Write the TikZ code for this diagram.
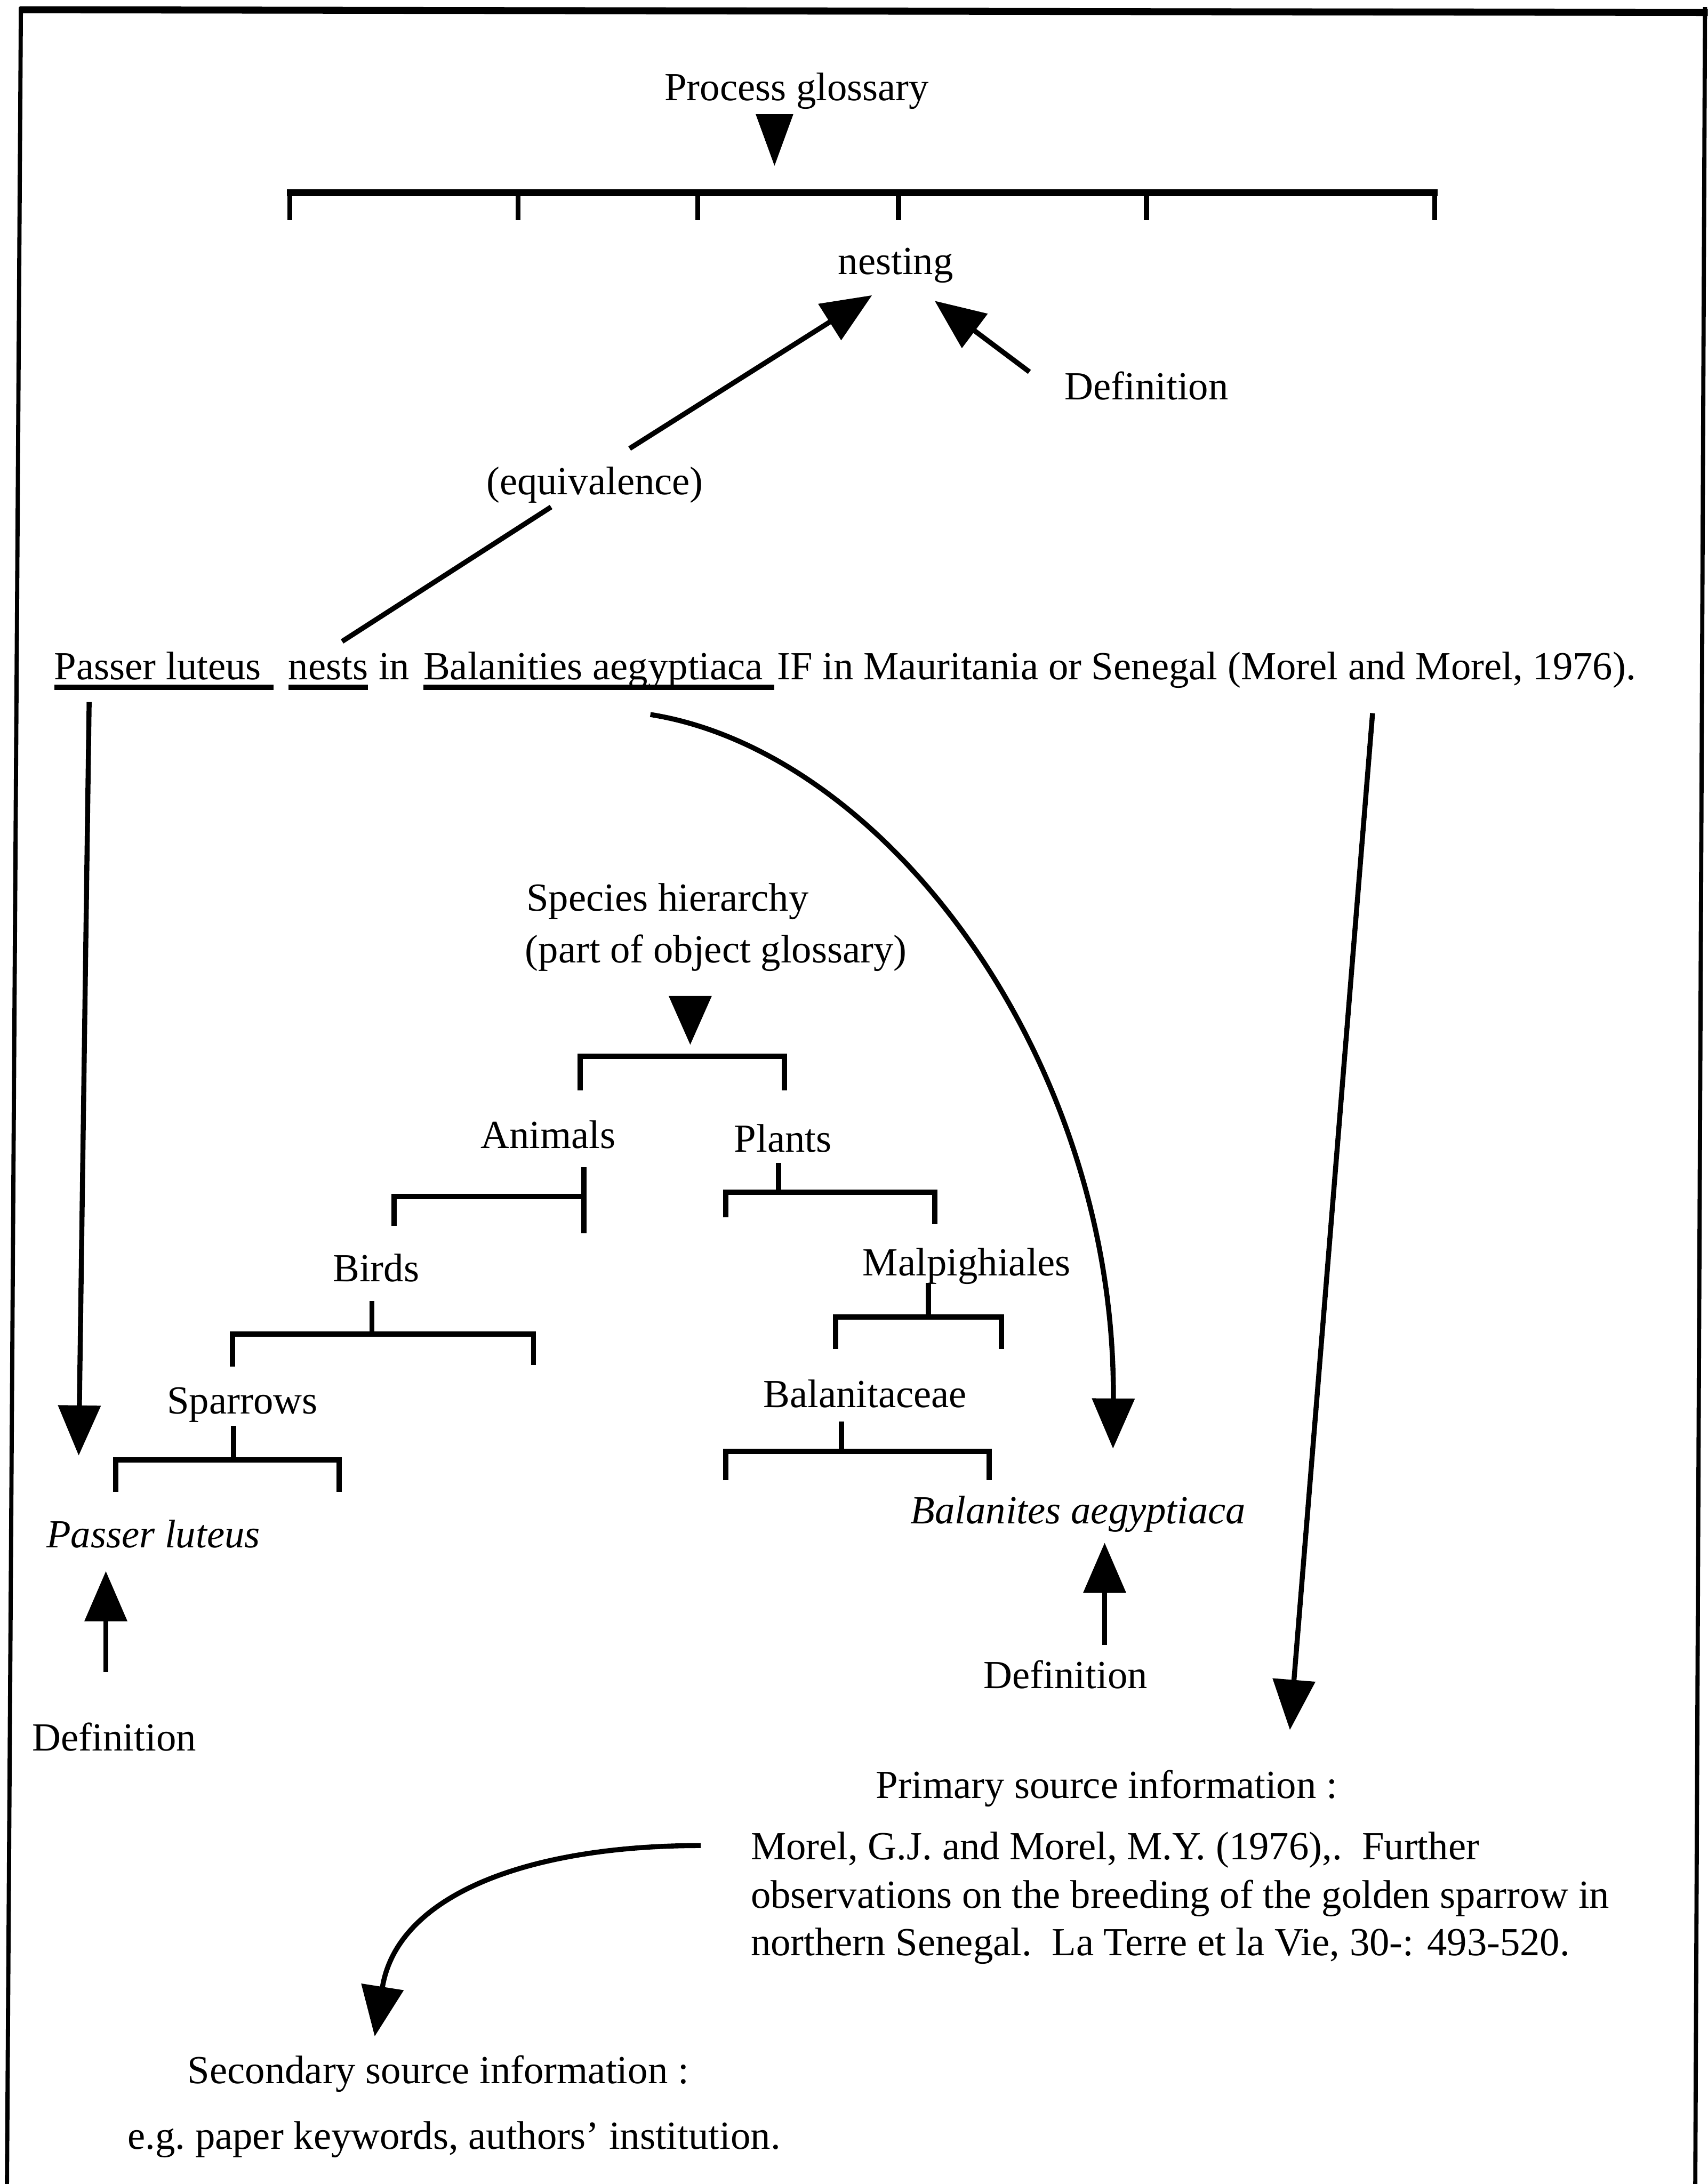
\documentclass[tikz,border=0pt]{standalone}
\usepackage{fontspec}
\setmainfont{Liberation Serif}
\usetikzlibrary{arrows.meta,calc}
\begin{document}
\begin{tikzpicture}[x=1pt,y=-1pt,
  txt/.style={inner sep=0pt, outer sep=0pt, font=\fontsize{28.6}{34}\selectfont},
  lbl/.style={txt, anchor=base},
  word/.style={txt, anchor=base west},
  ln/.style={line width=3.6pt},
  arr/.style={line width=3.6pt, -{Triangle[length=36pt,width=30pt]}},
  br/.style={line width=3.8pt},
  uline/.style={line width=4pt},
  frame/.style={line width=3pt}]
\useasboundingbox (0,0) rectangle (1226,1568);

% frame (open at the bottom)
\draw[line width=5pt] (14,7) -- (1226,9);
\draw[frame] (15,5) -- (5,1568);
\draw[frame] (1224,5) -- (1217,1568);

% ---- process glossary ----
\node[lbl] (pg) at (572,72) {Process glossary};
\fill (542.5,82) -- (569.5,82) -- (556,119) -- cycle;
\draw[line width=5pt] (206,138.5) -- (1032,138.5);
\foreach \x in {208,372,501,645,823,1030} \draw[ln] (\x,138.5) -- (\x,158);

\node[lbl] (nest) at (643,197) {nesting};
\node[lbl] (defA) at (823,287) {Definition};
\node[lbl] (eq) at (427,355) {(equivalence)};

% ---- the statement ----
\node[word] (w1) at (39,488) {Passer luteus\kern9pt};
\node[word] (w2) at (207,488) {nests};
\node[lbl]  (w2b) at (283,488) {in};
\node[word] (w3) at (304,488) {Balanities aegyptiaca\kern8pt};
\node[word] (w4) at (558,488) {IF in Mauritania or Senegal (Morel and Morel, 1976).};
\foreach \w in {w1,w2,w3}
  \draw[uline] ($(\w.base west)+(0,5.5)$) -- ($(\w.base east)+(0,5.5)$);

\draw[ln] ($(w2.base)+(10,-27.5)$) -- ($(eq.base)+(-31.4,9)$);
\draw[arr] ($(eq.base)+(25,-33)$) -- ($(nest.base)+(-17,15)$);
\draw[arr] ($(defA.base)+(-84,-20)$) -- ($(nest.base)+(28,19)$);

% ---- species hierarchy ----
\node[word] (sh1) at (378,654) {Species hierarchy};
\node[word] (sh2) at (377,691) {(part of object glossary)};
\fill (480,715) -- (511,715) -- (495.5,750) -- cycle;
\draw[br] (416.5,783) -- (416.5,758.5) -- (563,758.5) -- (563,783);

\node[lbl] (an) at (393.5,824.5) {Animals};
\node[lbl] (pl) at (562,827) {Plants};
\draw[br] (419,838) -- (419,885.5);
\draw[br] (283,880) |- (419,859);
\draw[br] (559,835) -- (559,856);
\draw[br] (521,874) |- (671,856) -- (671,879);

\node[lbl] (bi) at (270,920) {Birds};
\node[lbl] (ma) at (694,916) {Malpighiales};
\draw[br] (267,934) -- (267,957.7);
\draw[br] (167,981) |- (383,957.7) -- (383,980);
\draw[br] (666.6,921) -- (666.6,945.6);
\draw[br] (600,968.5) |- (719,945.6) -- (719,968.5);

\node[lbl] (sp) at (174,1015) {Sparrows};
\node[lbl] (ba) at (621,1010.6) {Balanitaceae};
\draw[br] (167.5,1023.5) -- (167.5,1048);
\draw[br] (83,1071) |- (243.5,1048) -- (243.5,1071);
\draw[br] (604,1020.6) -- (604,1042);
\draw[br] (521,1062.7) |- (710,1042) -- (710,1062.7);

\node[lbl] (plu) at (110,1111) {\itshape Passer luteus};
\node[lbl] (bae) at (774,1094) {\itshape Balanites aegyptiaca};
\node[lbl] (defB) at (82,1257) {Definition};
\node[lbl] (defC) at (765,1212) {Definition};

\draw[arr] ($(w1.base west)+(25,16)$) -- ($(plu.base)+(-53.5,-66)$);
\draw[arr] ($(w3.base)+(37,25)$) .. controls +(169,27) and +(2,-280) .. ($(bae.base)+(25,-54)$);
\draw[arr] ($(defB.base)+(-6,-56.5)$) -- ($(plu.base)+(-34,17)$);
\draw[arr] ($(defC.base)+(28,-31)$) -- ($(bae.base)+(19,13.6)$);

% ---- sources ----
\node[lbl] (psi) at (794.5,1291) {Primary source information :};
\node[word] (cit1) at (539,1335) {Morel, G.J. and Morel, M.Y. (1976),.\ \ Further};
\node[word] (cit2) at (539,1370) {observations on the breeding of the golden sparrow in};
\node[word] (cit3) at (539,1404) {northern Senegal.\ \ La Terre et la Vie, 30-: 493-520.};
\node[lbl] (ssi) at (314.6,1496) {Secondary source information :};
\node[lbl] (eg) at (326,1543) {e.g.\ paper keywords, authors' institution.};

\draw[arr] ($(w4.base east)+(-189,24)$) -- ($(psi.base)+(131.5,-49)$);
\draw[arr] ($(cit1.base west)+(-36,-10)$) .. controls +(-123,0) and +(16,-102) .. ($(ssi.base)+(-45.6,-34)$);
\end{tikzpicture}
\end{document}
